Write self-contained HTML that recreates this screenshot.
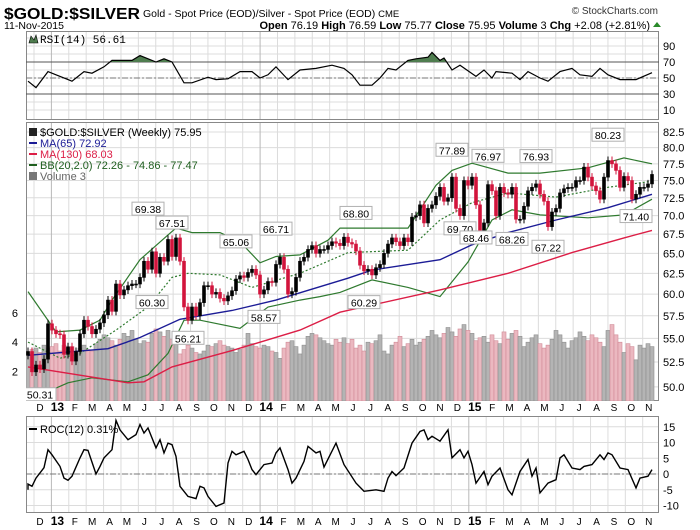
<!DOCTYPE html>
<html><head><meta charset="utf-8"><style>
body{margin:0;background:#fff;}
svg{display:block;font-family:"Liberation Sans",sans-serif;}
</style></head><body>
<svg id="chart" width="700" height="530" viewBox="0 0 700 530">
<text x="4" y="19" font-size="16" font-weight="bold" textLength="136" lengthAdjust="spacingAndGlyphs">$GOLD:$SILVER</text>
<text x="143" y="17" font-size="10.5">Gold - Spot Price (EOD)/Silver - Spot Price (EOD) <tspan font-size="9.5">CME</tspan></text>
<text x="658" y="14" font-size="10" text-anchor="end" fill="#333">© StockCharts.com</text>
<text x="4" y="29" font-size="10.5">11-Nov-2015</text>
<text x="650" y="29" font-size="11" text-anchor="end"><tspan font-weight="bold">Open</tspan> 76.19 <tspan font-weight="bold">High</tspan> 76.59 <tspan font-weight="bold">Low</tspan> 75.77 <tspan font-weight="bold">Close</tspan> 75.95 <tspan font-weight="bold">Volume</tspan> 3 <tspan font-weight="bold">Chg</tspan> +2.08 (+2.81%)</text>
<polygon points="653,27 661,27 657,22" fill="#2a8a2a"/>
<g id="layers"></g>
</svg>
<script>
// ---------- DATA ----------
const closes=[53.6,51.5,52.2,51.8,52.8,56.6,55.9,55.5,55.4,53.3,
54.1,52.6,53.6,55.5,57.0,56.3,55.5,56.0,56.7,57.6,
59.3,58.0,61.2,59.9,60.5,61.0,61.2,61.2,62.0,64.0,
63.0,65.2,62.5,64.5,64.0,66.8,64.6,67.0,64.0,58.5,
57.0,58.5,57.5,59.0,61.0,61.0,60.0,60.2,59.5,59.2,
59.8,60.4,61.8,62.2,62.0,62.6,63.0,62.3,60.0,60.5,
61.5,61.4,63.6,64.5,63.0,60.0,60.3,62.0,64.0,64.5,
65.5,66.0,65.0,65.5,65.5,66.0,66.5,66.3,66.0,67.1,
66.4,66.2,65.3,63.5,62.8,63.0,62.3,63.2,63.6,65.0,
66.2,67.0,66.5,66.0,67.0,66.5,69.8,70.0,71.5,69.0,
71.0,71.5,72.7,74.0,72.0,72.5,75.5,71.0,70.0,75.0,
74.3,75.5,71.5,67.8,69.0,74.4,73.5,70.0,74.0,73.2,
73.0,74.0,69.5,69.5,71.3,73.5,74.0,74.5,73.0,72.0,
68.5,70.5,71.0,73.2,73.8,74.0,74.0,75.0,75.0,77.0,
75.5,74.2,73.5,72.3,75.5,78.0,77.5,76.5,74.0,75.6,
75.0,72.3,73.0,74.0,74.0,74.5,75.9];
const volumes=[3.2,3.5,3.6,3.3,3.8,3.6,3.7,3.9,3.4,3.8,3.6,3.7,3.3,3.6,3.8,3.5,3.4,3.9,4.2,4.5,4.3,
4.1,3.8,4.2,4.6,4.4,4.8,4.2,3.9,4.1,4.0,4.6,4.9,4.7,4.4,4.8,4.2,4.6,3.2,3.5,3.8,
3.6,3.3,3.2,3.4,3.8,3.7,3.9,4.1,3.8,3.7,3.6,3.3,3.5,3.8,4.6,3.9,3.7,3.6,3.8,3.7,
3.4,3.3,2.9,3.6,4.0,4.1,3.7,3.2,3.8,4.4,4.6,4.5,4.3,4.1,3.9,3.8,4.2,4.0,4.3,3.9,
4.2,3.6,3.8,3.4,4.0,3.9,4.1,4.5,3.4,3.2,3.8,4.0,4.4,3.7,3.9,4.2,3.8,4.0,4.2,4.4,
4.8,4.5,4.3,4.6,5.0,4.7,4.4,4.9,5.2,4.8,4.6,4.1,4.3,4.4,4.0,4.5,4.1,3.9,4.7,4.2,
4.6,4.8,4.4,3.7,4.0,4.3,4.5,3.9,3.6,3.8,4.2,4.8,4.5,4.0,3.6,4.1,4.3,4.7,4.4,4.1,
4.5,4.3,4.0,3.7,4.8,5.2,4.5,4.0,3.3,3.9,3.7,2.8,3.8,3.6,3.9,3.7];
const ma65Idx=[0,20,28,38,51,62,80,86,103,111,120,132,145,156];
const ma65Val=[53.2,53.9,55.1,57.1,58.1,59.3,61.9,62.9,64.2,66.1,67.7,69.4,71.1,73.0];
const ma130Idx=[0,25,29,36,51,68,78,103,120,136,149,156];
const ma130Val=[52.0,50.4,50.5,52.0,53.7,55.9,57.9,60.5,62.5,65.1,67.0,68.0];
const bbUpIdx=[0,7,13,18,21,28,35,37,41,48,53,58,62,68,75,78,95,102,106,111,120,128,140,149,156];
const bbUpVal=[60.3,55.7,55.9,57.0,59.3,64.2,67.4,68.3,67.7,67.7,66.5,63.8,64.6,64.8,66.7,68.3,68.3,74.3,76.5,77.6,76.1,76.1,76.9,78.4,77.5];
const bbMidIdx=[0,8,13,22,30,36,40,48,56,68,80,95,103,111,120,132,145,156];
const bbMidVal=[54.6,52.9,53.4,55.9,58.5,62.0,62.5,62.3,60.8,62.5,65.1,65.4,69.4,71.8,73.2,72.6,74.0,74.9];
const bbLoIdx=[0,10,16,25,30,35,39,43,53,60,68,73,78,86,95,103,110,116,121,128,140,149,156];
const bbLoVal=[48.7,50.4,50.9,50.5,51.2,53.4,57.0,57.0,56.1,58.5,59.3,59.7,60.2,61.7,60.8,59.7,63.9,69.4,70.8,70.1,69.7,70.1,72.3];
const rsiIdx=[0,2,5,7,10,11,14,16,19,21,26,28,32,34,36,39,41,45,47,50,53,56,58,60,62,65,68,72,76,79,81,83,86,88,90,92,95,97,100,101,103,104,106,108,112,114,116,117,121,123,125,128,130,133,136,138,141,143,145,148,152,156];
const rsiVal=[46,38,58,54,48,46,58,56,64,72,72,78,70,74,70,44,44,51,48,49,58,58,50,54,64,48,60,62,66,62,54,41,41,50,62,60,72,74,76,82,72,75,60,66,52,60,50,58,56,48,58,50,46,58,62,54,52,62,54,48,48,56.6];
const rocIdx=[0,0,1,2,4,5,6,8,9,10,11,13,14,15,17,18,19,21,22,23,25,27,28,29,30,32,33,34,35,36,37,38,40,42,43,44,45,47,49,50,51,52,54,55,56,57,59,61,62,63,65,66,67,69,70,72,73,74,77,79,82,84,87,89,90,91,92,94,96,98,99,100,101,103,105,106,108,109,110,111,112,114,115,116,118,120,121,123,125,126,127,128,130,132,133,134,136,138,139,141,143,144,145,146,148,150,152,153,155,156];
const rocVal=[-5,-3.2,-3.9,-1.3,2,7.7,6.1,2.4,-1.3,-2,-0.7,5.1,7.7,7.5,0,2.4,5.1,7.7,17,14,10.9,12.5,15.7,13,14.6,8.3,10.9,6.7,9.8,9.3,5.6,-3.9,-7.1,-7.8,-3.9,-4.4,-7.1,-10.3,-9.2,3.5,7.2,6.1,7.2,4.6,1.4,-0.2,3,3.5,6.7,8.3,1.4,-2.9,-1.3,4,8.8,6.7,7.2,2.2,9.8,3,-2.9,-5.5,-5,-5.5,-1.3,0.8,-0.5,1.9,9.8,13.5,14,10.9,12,10.4,14,5.1,7.7,5.1,7.2,3,-2.9,0.8,-3.4,-0.7,1.9,-5,-6.6,0.8,4.6,-0.7,1.9,-6,-2.9,-1.8,5.1,6.1,1.9,1.4,2.4,3,6.1,4.6,6.7,6.1,1.9,1.4,-4.4,-1.3,-0.7,1.4,0.3];
const peakIdx=[3,40,31,30,36,52,59,62,82,84,106,108,112,115,121,127,130,145,152];
const peakVal=[50.31,56.21,60.30,69.38,67.51,65.06,58.57,66.71,68.80,60.29,77.89,69.70,68.46,76.97,68.26,76.93,67.22,80.23,71.40];
const peakAbove=[0,0,0,1,1,1,0,1,1,0,1,0,0,1,0,1,0,1,0];
const priceTicks=[82.5,80.0,77.5,75.0,72.5,70.0,67.5,65.0,62.5,60.0,57.5,55.0,52.5,50.0];
const rsiTicks=[90,70,50,30,10];
const rocTicks=[15,10,5,0,-5,-10];
const volTicks=[2,4,6];
const monthLabels=["D","13","F","M","A","M","J","J","A","S","O","N","D","14","F","M","A","M","J","J","A","S","O","N","D","15","F","M","A","M","J","J","A","S","O","N"];

// ---------- SCALES ----------
const L=26,R=659;
const xI=i=>28+i*4;
const yP=p=>132+509*Math.log(82.5/p);
const yR=v=>78-(v-50)*0.8;
const yC=v=>474-v*3.15;
const yV=v=>401-v*14.7;
const monthX=m=>xI(3+m*4.348);
const NS="http://www.w3.org/2000/svg";
const root=document.getElementById('layers');
function mk(tag,attrs,parent){const e=document.createElementNS(NS,tag);for(const k in attrs)e.setAttribute(k,attrs[k]);(parent||root).appendChild(e);return e;}
function line(idx,val,yf){return idx.map((i,k)=>(k?'L':'M')+xI(i).toFixed(1)+','+yf(val[k]).toFixed(1)).join('');}

const defs=mk('defs',{});
const c1=mk('clipPath',{id:'cMain'},defs);mk('rect',{x:L,y:122,width:R-L,height:279},c1);
const c2=mk('clipPath',{id:'cRsiUp'},defs);mk('rect',{x:L,y:31,width:R-L,height:31},c2);
const c3=mk('clipPath',{id:'cRoc'},defs);mk('rect',{x:L,y:416,width:R-L,height:97},c3);
const c4=mk('clipPath',{id:'cRsi'},defs);mk('rect',{x:L,y:31,width:R-L,height:89},c4);

// ---------- GRIDS ----------
const grid=mk('g',{stroke:'#dcdcdc','stroke-width':1});


for(let v=10;v<=100;v+=10){mk('line',{x1:L,x2:R,y1:yR(v),y2:yR(v)},grid);}
priceTicks.forEach(p=>mk('line',{x1:L,x2:R,y1:yP(p),y2:yP(p)},grid));
for(let v=-10;v<=15;v+=5){mk('line',{x1:L,x2:R,y1:yC(v),y2:yC(v)},grid);}
monthLabels.forEach((m,k)=>{const x=monthX(k)-6;
 const col=(m.length>1)?'#b8b8b8':'#dcdcdc';
 [[31,120],[122,401],[416,513]].forEach(r=>mk('line',{x1:x,x2:x,y1:r[0],y2:r[1],stroke:col},grid));});

[[31,120,'rsi-panel'],[122,401,'price-panel'],[416,513,'roc-panel']].forEach(r=>{
 const f=mk('rect',{x:L+0.5,y:r[0]+0.5,width:R-L-1,height:r[1]-r[0]-1,fill:'none',stroke:'#888'});
 
 
});

// ---------- RSI ----------
mk('line',{x1:L,x2:R,y1:yR(70),y2:yR(70),stroke:'#555'});
mk('line',{x1:L,x2:R,y1:yR(30),y2:yR(30),stroke:'#555'});
mk('line',{x1:L,x2:R,y1:yR(50),y2:yR(50),stroke:'#777','stroke-dasharray':'6,2,2,2'});
const rsiPath=line(rsiIdx,rsiVal,yR);
const rf=mk('path',{d:rsiPath+'L'+xI(156)+','+yR(70)+'L'+xI(0)+','+yR(70)+'Z',fill:'#4f7d4f','clip-path':'url(#cRsiUp)'});


const rl=mk('path',{d:rsiPath,fill:'none',stroke:'#000','stroke-width':1.2,'clip-path':'url(#cRsi)'});


rsiTicks.forEach(v=>{const t=mk('text',{x:R+4,y:yR(v)+4,'font-size':11});t.textContent=v;
 
 });
const rlab=mk('text',{x:40,y:43,'font-size':11,'font-family':'Liberation Mono, monospace'});rlab.textContent='RSI(14) 56.61';


mk('path',{d:'M29,43 L31,36 L34,40 L36,35 L38,43 Z',fill:'#4f7d4f',stroke:'#000','stroke-width':0.6});

// ---------- MAIN PANEL ----------
const main=mk('g',{'clip-path':'url(#cMain)'});


closes.forEach((c,i)=>{const prev=i?closes[i-1]:c;const down=c<prev;
 const b=mk('rect',{x:xI(i)-2,y:yV(volumes[i]),width:4,height:401-yV(volumes[i]),fill:down?'#ebb8c0':'#b4b4b4',stroke:down?'#d08a96':'#8e8e8e','stroke-width':0.6},main);
 
 });
const bu=mk('path',{d:line(bbUpIdx,bbUpVal,yP),fill:'none',stroke:'#2f7a2f','stroke-width':1.2},main);


const bm=mk('path',{d:line(bbMidIdx,bbMidVal,yP),fill:'none',stroke:'#2f7a2f','stroke-width':1.2,'stroke-dasharray':'2,2'},main);


const bl=mk('path',{d:line(bbLoIdx,bbLoVal,yP),fill:'none',stroke:'#2f7a2f','stroke-width':1.2},main);


const m65=mk('path',{d:line(ma65Idx,ma65Val,yP),fill:'none',stroke:'#1c1c96','stroke-width':1.4},main);


const m130=mk('path',{d:line(ma130Idx,ma130Val,yP),fill:'none',stroke:'#dc1e46','stroke-width':1.4},main);


closes.forEach((c,i)=>{const o=i?closes[i-1]:c-0.4;const up=c>=o;const col=up?'#000':'#d2143c';
 const hi=Math.max(o,c)*1.008,lo=Math.min(o,c)*0.992;
 const g=mk('g',{},main);
 
 
 mk('line',{x1:xI(i),x2:xI(i),y1:yP(hi),y2:yP(lo),stroke:col,'stroke-width':1},g);
 const top=yP(Math.max(o,c)),bot=yP(Math.min(o,c));
 mk('rect',{x:xI(i)-1.5,y:top,width:3,height:Math.max(1,bot-top),fill:up?'#000':'#d2143c',stroke:col,'stroke-width':0.6},g);});
peakIdx.forEach((ix,k)=>{const x=xI(ix),y=yP(peakVal[k]);const yc=peakAbove[k]?y-11:y+11;
 const g=mk('g',{},main);
 
 
 mk('rect',{x:x-16,y:yc-7,width:32,height:13,fill:'#fff',stroke:'#b0b0b0'},g);
 const t=mk('text',{x:x,y:yc+4,'font-size':10.5,'text-anchor':'middle'},g);t.textContent=peakVal[k].toFixed(2);});
priceTicks.forEach(p=>{const t=mk('text',{x:R+4,y:yP(p)+4,'font-size':11});t.textContent=p.toFixed(1);
 
 });
volTicks.forEach(v=>{const t=mk('text',{x:18,y:yV(v)+4,'font-size':11,'text-anchor':'end'});t.textContent=v;
 
 });
const leg=[['$GOLD:$SILVER (Weekly) 75.95','#000'],['MA(65) 72.92','#1c1c96'],['MA(130) 68.03','#dc1e46'],['BB(20,2.0) 72.26 - 74.86 - 77.47','#1f5f1f'],['Volume 3','#666']];
leg.forEach((l,k)=>{const y=136+k*11;
 const t=mk('text',{x:40,y:y,'font-size':11,fill:l[1]});t.textContent=l[0];
 
 
 if(k>0&&k<4)mk('line',{x1:29,x2:37,y1:y-4,y2:y-4,stroke:l[1],'stroke-width':2});
 else mk('rect',{x:29,y:y-8,width:8,height:8,fill:k?'#777':'#222'});});

// ---------- ROC ----------
mk('line',{x1:L,x2:R,y1:yC(0),y2:yC(0),stroke:'#777','stroke-dasharray':'6,2,2,2'});
const rc=mk('path',{d:line(rocIdx,rocVal,yC),fill:'none',stroke:'#000','stroke-width':1.4,'clip-path':'url(#cRoc)'});


rocTicks.forEach(v=>{const t=mk('text',{x:R+4,y:yC(v)+4,'font-size':11});t.textContent=v;
 
 });
mk('line',{x1:29,x2:37,y1:429,y2:429,stroke:'#000','stroke-width':2});
const rl2=mk('text',{x:40,y:433,'font-size':11});rl2.textContent='ROC(12) 0.31%';



// ---------- DATE AXES ----------
[411,525].forEach(yy=>{monthLabels.forEach((m,k)=>{
 const t=mk('text',{x:monthX(k),y:yy,'font-size':m.length>1?12:10,'font-weight':m.length>1?'bold':'normal','text-anchor':'middle'});
 t.textContent=m;
 
 });});
</script>
</body></html>
